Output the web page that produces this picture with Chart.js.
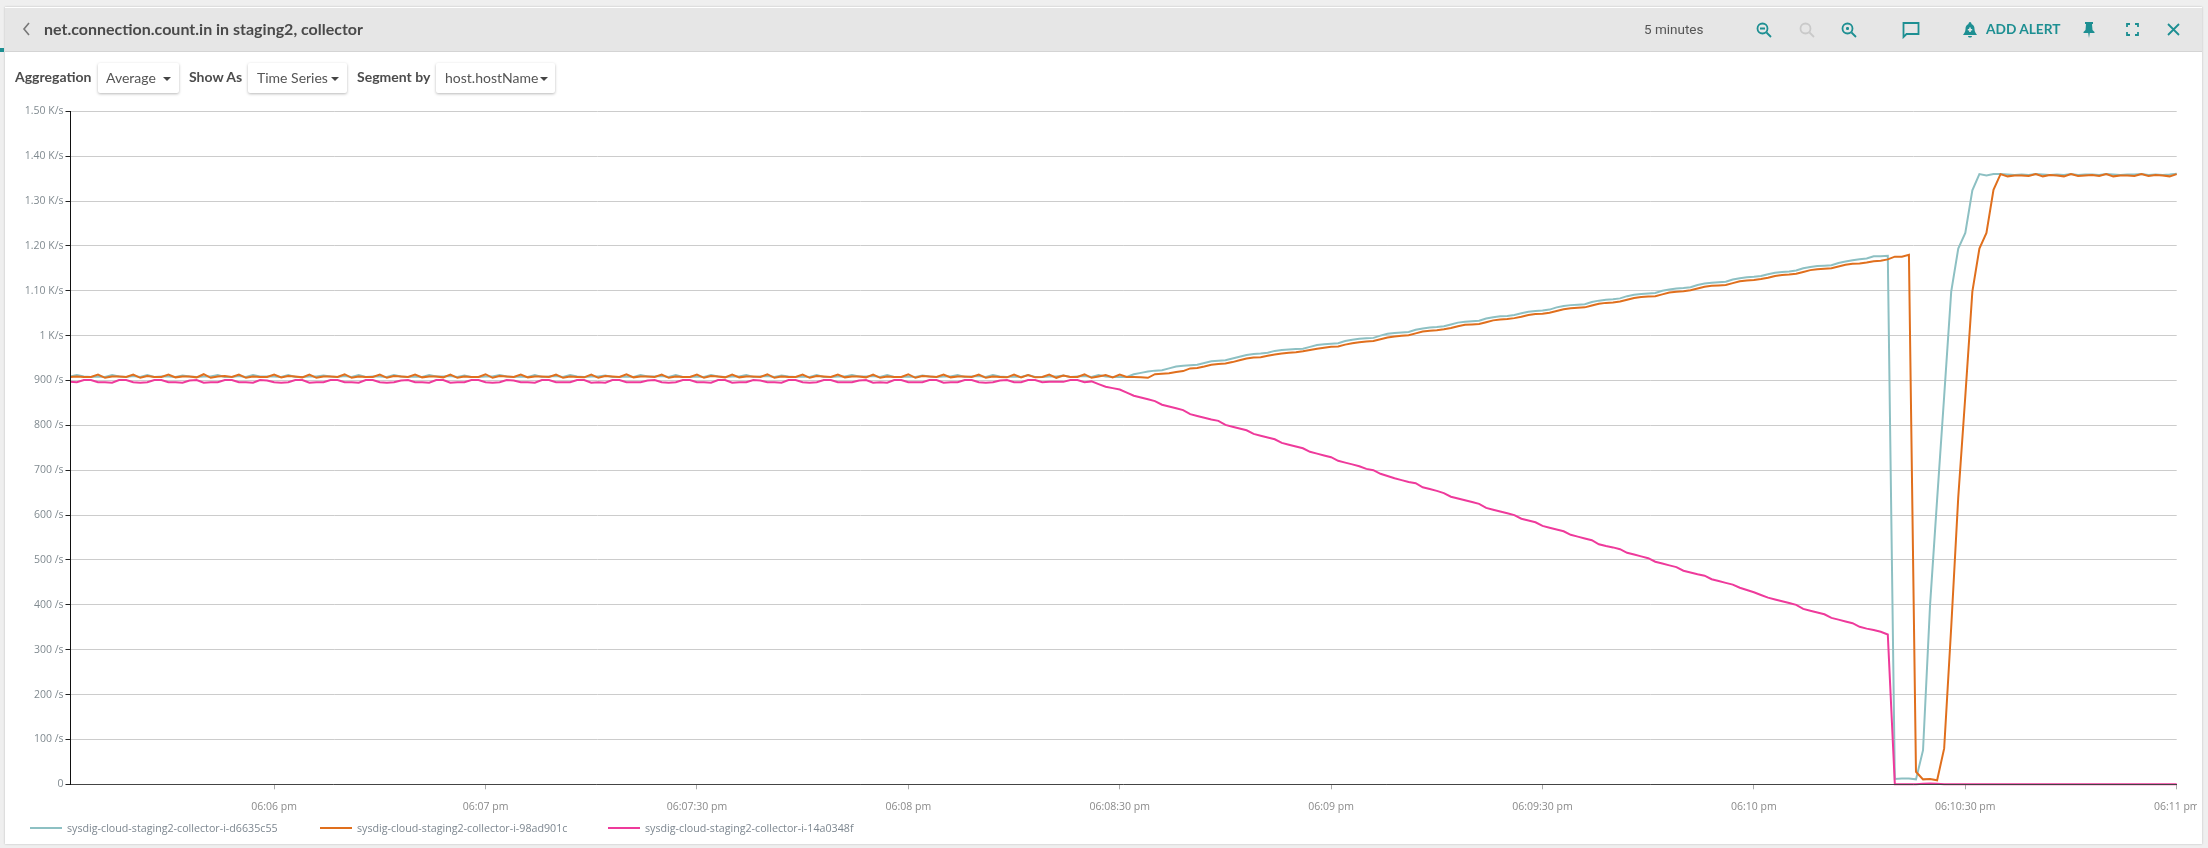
<!DOCTYPE html>
<html>
<head>
<meta charset="utf-8">
<title>net.connection.count.in</title>
<script src="https://cdn.jsdelivr.net/npm/chart.js@4"></script>
<style>
html, body { margin: 0; padding: 0; width: 2208px; height: 848px; overflow: hidden; background: #efefef; font-family: Lato, sans-serif; }
#card { position: absolute; left: 5px; top: 7px; width: 2197px; height: 837px; background: #fff; box-shadow: 0 0 2px #bbb; }
#header { position: absolute; left: 5px; top: 8px; width: 2197px; height: 43px; background: #e6e6e6; border-bottom: 1px solid #d4d4d4; }
#accent { position: absolute; left: 0; top: 48px; width: 4px; height: 4px; background: #1d8f92; }
#chart { position: absolute; left: 0; top: 0; }
.txt { position: absolute; white-space: nowrap; }
#title { left: 44px; top: 19px; font-size: 16px; font-weight: 700; color: #4a4a4a; line-height: 20px; }
#minutes { left: 1644px; top: 21px; font-size: 13.5px; color: #555; line-height: 16px; font-family: Roboto, sans-serif; }
#addalert { left: 1986px; top: 21px; font-size: 13.7px; font-weight: 700; color: #1d8f92; line-height: 16px; }
.lab { top: 68px; font-size: 14px; font-weight: 700; color: #4c4c4c; line-height: 18px; }
.btn { position: absolute; top: 63px; height: 30px; background: #fff; box-shadow: 0 1px 3px rgba(0,0,0,.28); border-radius: 2px; font-size: 14px; color: #555; line-height: 29px; }
.btn span { position: absolute; top: 0; white-space: nowrap; }
.btn i { position: absolute; top: 14px; width: 0; height: 0; border-left: 4px solid transparent; border-right: 4px solid transparent; border-top: 4px solid #444; }
svg.ico { position: absolute; fill: none; stroke: #1d8f92; stroke-width: 1.8; }
#legend { position: absolute; left: 0; top: 820px; height: 16px; }
.leg { position: absolute; top: 0; white-space: nowrap; font: 10.7px "Open Sans", sans-serif; color: #7d8790; line-height: 16px; }
.leg b { position: absolute; left: 0; top: 7px; width: 32px; height: 2px; }
.leg span { position: absolute; left: 37px; top: 0; }
</style>
</head>
<body>
<div id="card"></div>
<div id="header"></div>
<div id="accent"></div>
<canvas id="chart" width="2197" height="848"></canvas>

<svg class="ico" style="left:22px;top:21px;stroke:#777;stroke-width:1.6" width="10" height="16"><path d="M7 2 L2 8 L7 14"/></svg>
<div class="txt" id="title">net.connection.count.in in staging2, collector</div>
<div class="txt" id="minutes">5 minutes</div>
<svg class="ico" style="left:1756px;top:22px" width="16" height="16"><circle cx="6.5" cy="6.5" r="5"/><path d="M10.5 10.5 L15 15 M4 6.5 H9"/></svg>
<svg class="ico" style="left:1799px;top:22px;stroke:#c9c9c9" width="16" height="16"><circle cx="6.5" cy="6.5" r="5"/><path d="M10.5 10.5 L15 15"/></svg>
<svg class="ico" style="left:1841px;top:22px" width="16" height="16"><circle cx="6.5" cy="6.5" r="5"/><path d="M10.5 10.5 L15 15 M6.5 5 V8 M5 6.5 H8"/></svg>
<svg class="ico" style="left:1902px;top:21px" width="18" height="18"><path d="M1.5 2 H16.5 V13 H4.5 L1.5 16 Z"/></svg>
<svg class="ico" style="left:1962px;top:21px;fill:#1d8f92;stroke:none" width="16" height="18"><path d="M8 1 C9 1 9.5 2 9.5 3 C12 4 12.5 6 12.5 8 C12.5 11 14 12.5 15 14 H1 C2 12.5 3.5 11 3.5 8 C3.5 6 4 4 6.5 3 C6.5 2 7 1 8 1 Z M6 15 H10 C10 17 6 17 6 15 Z"/><path d="M8 6.5 V11 M5.8 8.8 H10.2" stroke="#e6e6e6" stroke-width="1.6"/></svg>
<div class="txt" id="addalert">ADD ALERT</div>
<svg class="ico" style="left:2083px;top:21px;fill:#1d8f92;stroke:none" width="12" height="18"><path d="M2 1 H10 V3 H9 L9.5 9 L11.5 11 V12 H6.8 L6 17 L5.2 12 H0.5 V11 L2.5 9 L3 3 H2 Z"/></svg>
<svg class="ico" style="left:2126px;top:23px" width="13" height="13"><path d="M1 4 V1 H4 M9 1 H12 V4 M12 9 V12 H9 M4 12 H1 V9"/></svg>
<svg class="ico" style="left:2167px;top:23px" width="13" height="13"><path d="M1 1 L12 12 M12 1 L1 12"/></svg>

<div class="txt lab" style="left:15px">Aggregation</div>
<div class="btn" style="left:98px;width:81px"><span style="left:8px">Average</span><i style="left:65px"></i></div>
<div class="txt lab" style="left:189px">Show As</div>
<div class="btn" style="left:248px;width:99px"><span style="left:9px">Time Series</span><i style="left:83px"></i></div>
<div class="txt lab" style="left:357px">Segment by</div>
<div class="btn" style="left:436px;width:119px"><span style="left:9px">host.hostName</span><i style="left:104px"></i></div>

<div id="legend"></div>

<script>
const seriesNames = ['sysdig-cloud-staging2-collector-i-d6635c55', 'sysdig-cloud-staging2-collector-i-98ad901c', 'sysdig-cloud-staging2-collector-i-14a0348f'];
const seriesColors = ['#8dc0c3', '#e06f1d', '#ee3a9b'];

// one sample per second, second 1 .. 300
const tealValues = [
    909, 912, 909, 908,
    909, 908, 912, 909, 908,   910, 908, 912, 908, 909,   909, 908, 911, 909, 908,   909, 909, 912, 908, 908,
    910, 908, 912, 909, 909,   909, 908, 912, 908, 908,   909, 909, 911, 909, 908,   910, 908, 912, 908, 909,
    909, 908, 912, 909, 908,   909, 908, 912, 909, 909,   910, 908, 911, 908, 908,   909, 909, 912, 909, 908,
    909, 908, 912, 908, 909,   910, 908, 912, 909, 908,   909, 909, 911, 908, 908,   909, 908, 912, 909, 909,
    910, 908, 912, 908, 908,   909, 908, 912, 909, 908,   909, 909, 912, 908, 909,   910, 908, 911, 909, 908,
    909, 908, 912, 908, 908,   909, 909, 912, 909, 909,   910, 908, 912, 908, 908,   909, 908, 911, 909, 908,
    909, 909, 912, 908, 909,   910, 908, 912, 909, 908,   909, 908, 912, 908, 908,   909, 909, 911, 908, 909,   910, 908, 912, 909, 908,
    908, 908, 914, 917, 920,   922, 923, 927, 931, 933,   934, 935, 939, 943, 944,   945, 949, 953, 957, 959,
    960, 962, 966, 968, 969,   970, 971, 975, 979, 981,   982, 983, 988, 991, 993,   994, 995, 1000, 1004, 1006,
    1007, 1008, 1013, 1016, 1018,   1019, 1021, 1025, 1029, 1031,   1032, 1033, 1038, 1041, 1043,   1044, 1046, 1050, 1053, 1055,
    1056, 1058, 1063, 1066, 1068,   1069, 1070, 1075, 1078, 1080,   1081, 1083, 1088, 1091, 1093,   1094, 1095, 1100, 1103, 1105,
    1106, 1108, 1113, 1116, 1118,   1119, 1120, 1125, 1128, 1130,   1131, 1133, 1137, 1140, 1142,   1143, 1145, 1150, 1153, 1155,
    1156, 1157, 1162, 1165, 1168,   1170, 1172, 1177, 1177, 1178,
    12, 13, 13, 11, 76, 400, 635, 865, 1098, 1194, 1229, 1324, 1360, 1357, 1360, 1360,
    1359, 1358, 1359, 1358, 1360, 1359, 1358, 1359, 1358, 1360, 1358, 1359, 1359, 1358, 1360, 1359, 1358, 1359, 1359, 1360, 1358, 1359, 1358, 1359, 1361
];
const orangeValues = [
    908, 909, 908, 908,
    913, 906, 909, 909, 908,   913, 906, 910, 908, 908,   913, 907, 909, 909, 907,   914, 906, 909, 910, 908,
    913, 906, 909, 908, 908,   913, 907, 910, 909, 907,   913, 906, 909, 909, 908,   914, 906, 909, 908, 908,
    913, 906, 910, 909, 908,   913, 907, 909, 909, 907,   913, 906, 909, 908, 908,   914, 906, 910, 909, 908,
    913, 907, 909, 909, 908,   913, 906, 909, 908, 907,   913, 906, 910, 909, 908,   914, 907, 909, 909, 908,
    913, 906, 909, 908, 908,   913, 906, 910, 909, 907,   913, 907, 909, 909, 908,   914, 906, 909, 908, 908,
    913, 906, 910, 909, 908,   913, 907, 909, 909, 907,   913, 906, 909, 908, 908,   914, 906, 910, 909, 908,
    913, 907, 909, 909, 908,   913, 906, 909, 908, 907,   913, 907, 912, 907, 908,   913, 906, 911, 908, 908,   914, 906, 909, 912, 907,
    913, 908, 908, 907, 906,   914, 915, 916, 919, 921,   927, 928, 931, 935, 937,   938, 941, 945, 949, 951,
    952, 955, 958, 960, 962,   963, 965, 968, 971, 973,   975, 976, 980, 983, 985,   987, 988, 992, 996, 998,
    1000, 1001, 1005, 1009, 1011,   1012, 1014, 1017, 1021, 1024,   1025, 1026, 1030, 1034, 1036,   1037, 1039, 1042, 1046, 1048,
    1049, 1051, 1055, 1059, 1061,   1062, 1063, 1067, 1071, 1073,   1074, 1076, 1080, 1084, 1086,   1087, 1088, 1092, 1096, 1098,
    1099, 1101, 1105, 1109, 1111,   1112, 1113, 1117, 1121, 1123,   1124, 1126, 1129, 1133, 1135,   1136, 1138, 1142, 1146, 1148,
    1149, 1150, 1154, 1158, 1160,   1161, 1163, 1166, 1167, 1170,
    1176, 1176, 1180, 28, 11, 12, 9, 80, 350, 640, 865, 1098, 1194, 1229, 1325, 1360,
    1355, 1357, 1357, 1356, 1360, 1355, 1358, 1357, 1355, 1360, 1356, 1357, 1358, 1356, 1360, 1355, 1357, 1357, 1356, 1360, 1356, 1358, 1357, 1355, 1360
];
const pinkValues = [
    897, 896, 901, 901,
    896, 896, 895, 901, 901,   896, 895, 896, 901, 901,   896, 896, 895, 900, 901,   895, 896, 896, 901, 901,
    896, 896, 895, 901, 900,   896, 895, 896, 901, 901,   895, 896, 896, 901, 901,   896, 896, 895, 901, 901,
    896, 895, 896, 900, 901,   896, 896, 895, 901, 901,   895, 896, 896, 901, 901,   896, 895, 896, 901, 900,
    896, 896, 895, 901, 901,   896, 896, 896, 901, 901,   895, 896, 895, 901, 901,   896, 896, 896, 900, 901,
    896, 895, 896, 901, 901,   896, 896, 895, 901, 901,   895, 896, 896, 901, 900,   896, 896, 895, 901, 901,
    896, 895, 896, 901, 901,   896, 896, 896, 900, 901,   895, 896, 895, 901, 901,   896, 896, 896, 901, 901,
    895, 896, 896, 901, 901,   896, 895, 896, 900, 901,   896, 896, 901, 901, 896,   897, 897, 897, 901, 901,   896, 898, 892, 886, 883,
    880, 873, 866, 862, 858,   854, 846, 842, 838, 834,   825, 821, 817, 813, 810,   801, 797, 793, 789, 781,
    777, 773, 769, 761, 757,   753, 749, 741, 737, 733,   729, 721, 717, 713, 709,   703, 700, 692, 687, 682,
    678, 674, 671, 662, 658,   654, 649, 641, 637, 633,   629, 625, 616, 612, 608,   604, 600, 592, 588, 584,
    576, 572, 568, 564, 556,   552, 548, 544, 535, 531,   528, 524, 516, 512, 508,   504, 496, 492, 488, 484,
    476, 472, 468, 465, 457,   453, 449, 445, 438, 433,   428, 422, 416, 412, 408,   404, 400, 391, 387, 383,
    379, 371, 367, 363, 359,   351, 347, 344, 340, 334,
    0, 0, 0, 0, 1, 2, 1, 0, 0, 0, 0, 0, 0, 0, 0, 0,
    0, 0, 0, 0, 0, 0, 0, 0, 0, 0, 0, 0, 0, 0, 0, 0, 0, 0, 0, 0, 0, 0, 0, 0, 0
];

const yTickValues = [0, 100, 200, 300, 400, 500, 600, 700, 800, 900, 1000, 1100, 1200, 1300, 1400, 1500];
const yTickLabels = ['0', '100 /s', '200 /s', '300 /s', '400 /s', '500 /s', '600 /s', '700 /s', '800 /s', '900 /s', '1 K/s', '1.10 K/s', '1.20 K/s', '1.30 K/s', '1.40 K/s', '1.50 K/s'];
const xTickValues = [30, 60, 90, 120, 150, 180, 210, 240, 270, 300];
const xTickLabels = ['06:06 pm', '06:07 pm', '06:07:30 pm', '06:08 pm', '06:08:30 pm', '06:09 pm', '06:09:30 pm', '06:10 pm', '06:10:30 pm', '06:11 pm'];

function toPoints(values) {
    return values.map((v, i) => ({ x: i + 1, y: v }));
}

const lineOrder = [3, 2, 1];
const allValues = [tealValues, orangeValues, pinkValues];

new Chart(document.getElementById('chart').getContext('2d'), {
    type: 'line',
    data: {
        datasets: seriesNames.map((name, i) => ({
            label: name,
            data: toPoints(allValues[i]),
            borderColor: seriesColors[i],
            borderWidth: 2,
            pointRadius: 0,
            tension: 0,
            order: lineOrder[i],
            clip: { left: 0, right: 2, top: 5, bottom: 5 }
        }))
    },
    options: {
        responsive: false,
        animation: false,
        layout: { autoPadding: false, padding: { left: 0, right: 20.3, top: 111.3, bottom: 0 } },
        plugins: { legend: { display: false }, tooltip: { enabled: false } },
        scales: {
            x: {
                type: 'linear',
                min: 1.1,
                max: 300,
                afterFit: (s) => { s.height = 63.7; s.paddingLeft = 0; s.paddingRight = 0; },
                afterBuildTicks: (s) => { s.ticks = xTickValues.map((v) => ({ value: v })); },
                grid: { drawOnChartArea: false, tickColor: '#aaaaaa', tickLength: 5 },
                border: { color: '#444444', z: 1 },
                ticks: {
                    autoSkip: false,
                    maxRotation: 0,
                    padding: 11,
                    color: '#8a8a8a',
                    font: { family: '"Open Sans"', size: 10.5 },
                    callback: (v) => xTickLabels[xTickValues.indexOf(v)]
                }
            },
            y: {
                type: 'linear',
                min: 0,
                max: 1500,
                afterFit: (s) => { s.width = 70.5; },
                afterBuildTicks: (s) => { s.ticks = yTickValues.map((v) => ({ value: v })); },
                grid: { color: '#cccccc', tickColor: '#222222', tickLength: 5, lineWidth: 1 },
                border: { color: '#111111', z: 1 },
                ticks: {
                    autoSkip: false,
                    padding: 2,
                    color: '#808a90',
                    font: { family: '"Open Sans"', size: 10.5 },
                    callback: (v) => yTickLabels[yTickValues.indexOf(v)]
                }
            }
        }
    }
});

// legend row under the chart
const legendLeft = [30, 320, 608];
seriesNames.forEach((name, i) => {
    const item = document.createElement('div');
    item.className = 'leg';
    item.style.left = legendLeft[i] + 'px';
    item.innerHTML = '<b style="background:' + seriesColors[i] + '"></b><span>' + name + '</span>';
    document.getElementById('legend').appendChild(item);
});
</script>
</body>
</html>
